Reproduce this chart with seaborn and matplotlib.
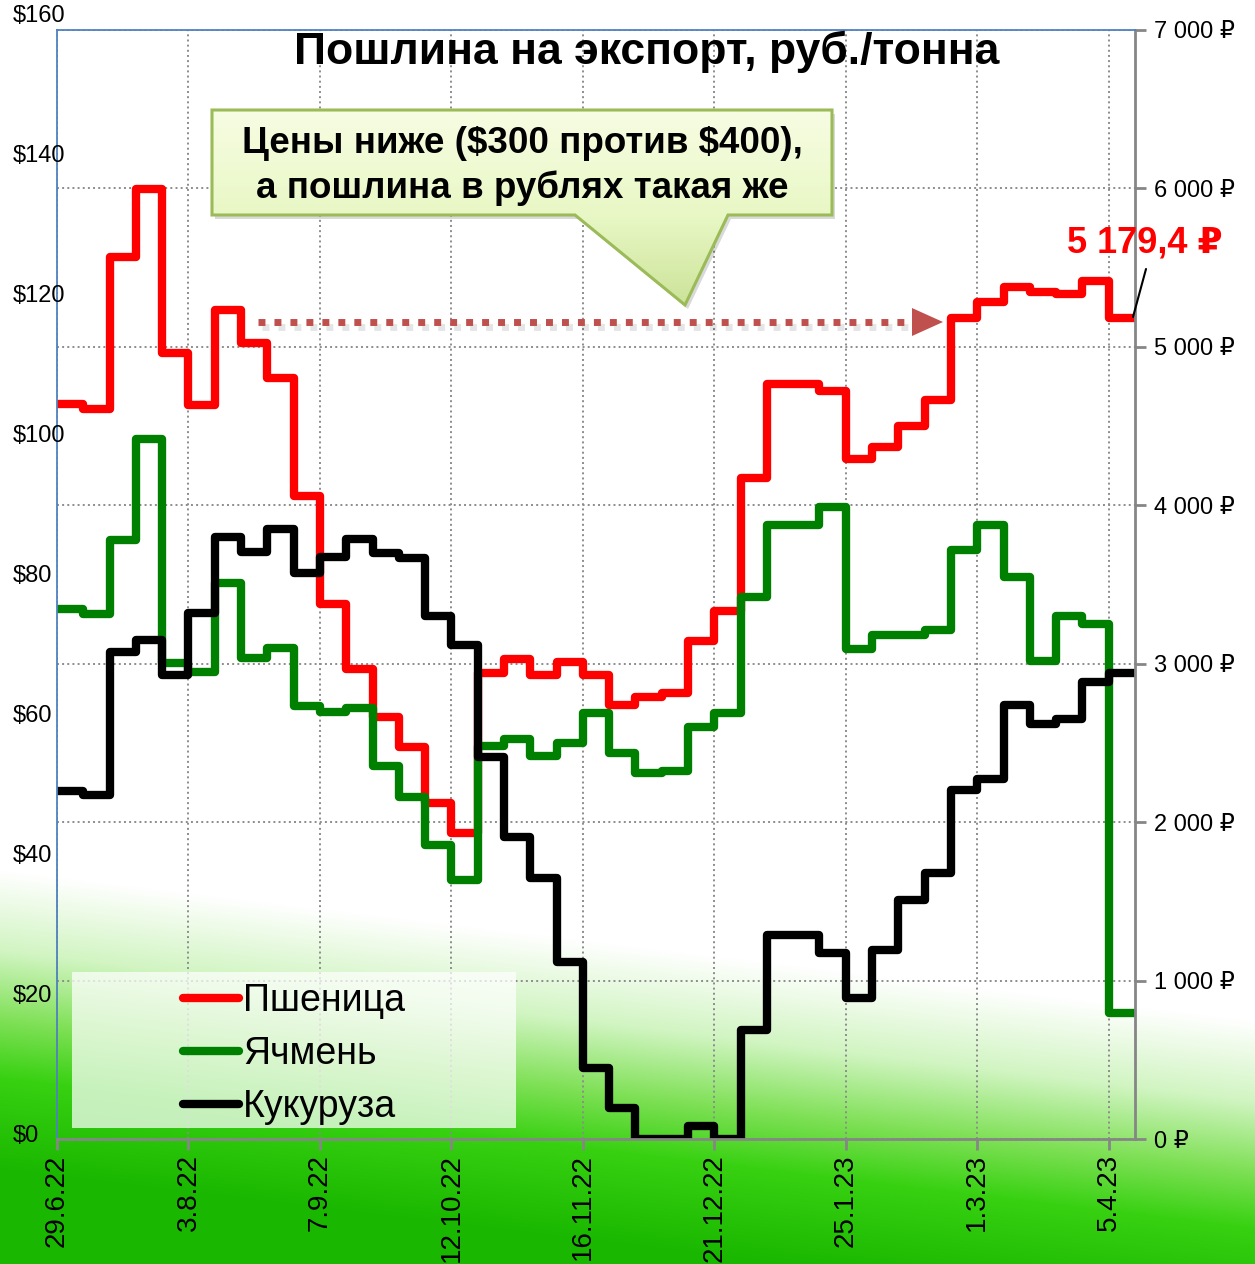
import numpy as np
import pandas as pd
import matplotlib
matplotlib.use('Agg')
import matplotlib.pyplot as plt
from matplotlib.lines import Line2D
from matplotlib.patches import Polygon, Rectangle
import seaborn as sns

# ─── Data: export duty, rub/tonne, weekly (value holds until next Wednesday) ──

weeks = pd.date_range('2022-06-29', periods=41, freq='7D')
period_end = pd.Timestamp('2023-04-12')

wheat = [4640, 4608, 5570, 5995, 4960, 4634, 5233, 5025, 4804, 4060,
         3378, 2967, 2666, 2477, 2121, 1931, 2942, 3030, 2929, 3013,
         2927, 2740, 2792, 2813, 3146, 3335, 4170, 4766, 4766, 4724,
         4291, 4371, 4501, 4665, 5181, 5286, 5376, 5349, 5334, 5418,
         5179.4]
barley = [3344, 3312, 3781, 4417, 3003, 2950, 3508, 3038, 3097, 2733,
          2697, 2718, 2354, 2157, 1856, 1635, 2481, 2523, 2417, 2502,
          2688, 2435, 2312, 2323, 2603, 2691, 3423, 3876, 3876, 3990,
          3090, 3181, 3181, 3213, 3718, 3876, 3549, 3017, 3301, 3249,
          797]
corn = [2199, 2172, 3076, 3150, 2929, 3318, 3802, 3707, 3849, 3575,
        3672, 3786, 3697, 3665, 3301, 3118, 2409, 1909, 1646, 1119,
        446, 194, 0, 0, 82, 0, 688, 1288, 1288, 1176,
        888, 1193, 1509, 1677, 2203, 2270, 2740, 2620, 2649, 2887,
        2943]

crops = ['Пшеница', 'Ячмень', 'Кукуруза']
colors = {'Пшеница': '#FF0000', 'Ячмень': '#008000', 'Кукуруза': '#000000'}
rub_ticks = [0, 1000, 2000, 3000, 4000, 5000, 6000, 7000]
usd_ticks = [0, 20, 40, 60, 80, 100, 120, 140, 160]

title = 'Пошлина на экспорт, руб./тонна'
callout = 'Цены ниже ($300 против $400),\nа пошлина в рублях такая же'
last_label = '5 179,4 ₽'

W, H = 1255, 1264


def fig_box(x0, y0, x1, y1):
    # image pixels (top-left origin) -> figure fraction rect
    return [x0 / W, 1 - y1 / H, (x1 - x0) / W, (y1 - y0) / H]


def rub_fmt(v):
    return f"{int(v):,}".replace(',', ' ') + ' ₽'


sns.set_style('ticks')
plt.rcParams['font.family'] = ['Liberation Sans', 'DejaVu Sans']
plt.rcParams['text.color'] = 'black'
plt.rcParams['text.parse_math'] = False

fig = plt.figure(figsize=(W / 100, H / 100), dpi=100)

# ── background gradient ──
bg = fig.add_axes([0, 0, 1, 1])
yy, xx = np.mgrid[0:H, 0:W]
t = (yy - (870 + 0.12 * xx)) / 230.0
stops_t = [0.0, 0.35, 0.65, 0.9, 1.3]
stops_c = [(1, 1, 1), (0.82, 0.96, 0.76), (0.50, 0.88, 0.34),
           (0.22, 0.82, 0.07), (0.10, 0.72, 0.0)]
img = np.dstack([np.interp(t, stops_t, [c[i] for c in stops_c]) for i in range(3)])
bg.imshow(img, extent=[0, W, H, 0], aspect='auto')
bg.set_axis_off()
bg.set_zorder(0)

# ── main axes (rubles) ──
ax = fig.add_axes(fig_box(57, 30, 1135, 1139))
ax.set_zorder(1)
ax.patch.set_alpha(0)

frames = []
for name, vals in zip(crops, [wheat, barley, corn]):
    frames.append(pd.DataFrame({
        'date': list(weeks) + [period_end],
        'duty': list(vals) + [vals[-1]],
        'crop': name,
    }))
df = pd.concat(frames, ignore_index=True)

sns.lineplot(data=df, x='date', y='duty', hue='crop', hue_order=crops,
             palette=colors, drawstyle='steps-post', lw=6, legend=False,
             solid_joinstyle='round', solid_capstyle='round', ax=ax)

ax.set_xlim(weeks[0], period_end)
ax.set_ylim(0, 7000)
ax.set_xlabel('')
ax.set_ylabel('')

xt = weeks[::5]
ax.set_xticks(xt)
ax.set_xticklabels([f"{d.day}.{d.month}.{d:%y}" for d in xt],
                   rotation=90, fontsize=20)
ax.yaxis.tick_right()
ax.set_yticks(rub_ticks)
ax.set_yticklabels([rub_fmt(v) for v in rub_ticks], fontsize=17)
ax.tick_params(axis='y', length=8, width=2, color='#868686', pad=6,
               labelcolor='black')
ax.tick_params(axis='x', length=8, width=2, color='#868686', pad=3,
               labelcolor='black')
ax.grid(True, ls=':', lw=1.4, color='#8c8c8c')

for side in ['left', 'top']:
    ax.spines[side].set_color('#4F81BD')
    ax.spines[side].set_linewidth(1.3)
for side in ['right', 'bottom']:
    ax.spines[side].set_color('#868686')
    ax.spines[side].set_linewidth(2)

# ── dollar scale on the left ──
dax = fig.add_axes(fig_box(13, 14, 13.1, 1134))
dax.set_zorder(1)
dax.patch.set_alpha(0)
dax.set_ylim(0, 160)
dax.yaxis.tick_right()
dax.set_yticks(usd_ticks)
dax.set_yticklabels([f"${v}" for v in usd_ticks], fontsize=17)
dax.tick_params(axis='y', length=0, pad=0, labelcolor='black')
dax.xaxis.set_visible(False)
for s in dax.spines.values():
    s.set_visible(False)

# ── overlay in image pixel coordinates ──
ov = fig.add_axes([0, 0, 1, 1])
ov.set_zorder(2)
ov.patch.set_alpha(0)
ov.set_axis_off()

ov.text(647, 52, title, ha='center', va='center', fontsize=32,
        fontweight='bold')

# callout box with pointer
pts = [(212, 110), (832, 110), (832, 215), (728, 215), (685, 305),
       (575, 215), (212, 215)]
shadow = Polygon([(x + 3, y + 4) for x, y in pts], closed=True,
                 fc='#000000', alpha=0.15, ec='none')
ov.add_patch(shadow)
box = Polygon(pts, closed=True, fc='none', ec='#9BBB59', lw=2.2)
ov.add_patch(box)
gy = np.linspace(0, 1, 200)[:, None] * np.ones((1, 2))
gcols = np.dstack([np.interp(gy, [0, 0.55, 1], [a, b, c]) for a, b, c in
                   zip((0.97, 0.99, 0.89), (0.91, 0.97, 0.77), (0.80, 0.89, 0.60))])
grad = ov.imshow(gcols, extent=[212, 832, 305, 110], aspect='auto', zorder=1)
grad.set_clip_path(box)
box.set_zorder(2)
ov.text(522, 166, callout, ha='center', va='center', fontsize=26.5,
        fontweight='bold', linespacing=1.32, zorder=3)

# dotted arrow
ov.plot([262, 916], [327, 327], color='#000000', alpha=0.1, lw=5,
        dashes=(1, 1.3), dash_capstyle='butt')
ov.plot([258, 912], [322, 322], color='#C0504D', lw=5, dashes=(1, 1.3),
        dash_capstyle='butt')
ov.add_patch(Polygon([(912, 308), (943, 322), (912, 336)], closed=True,
                     fc='#C0504D', ec='none'))

# last value label
ov.text(1145, 243, last_label, ha='center', va='center', fontsize=26,
        fontweight='bold', color='#FF0000')
ov.plot([1146, 1133], [269, 317], color='black', lw=1.5)

# legend with its own translucent panel
ov.add_patch(Rectangle((72, 972), 444, 156, fc='white', alpha=0.72,
                       ec='none'))
handles = [Line2D([], [], color=colors[c], lw=6, solid_capstyle='round')
           for c in crops]
ov.legend(handles, crops, loc='upper left',
          bbox_to_anchor=(183 / W, 1 - 983 / H),
          bbox_transform=fig.transFigure, frameon=False, fontsize=27,
          handlelength=1.5, handletextpad=0.1, labelspacing=0.45,
          borderpad=0, borderaxespad=0)

ov.set_xlim(0, W)
ov.set_ylim(H, 0)

fig.savefig('out.png', dpi=100)
